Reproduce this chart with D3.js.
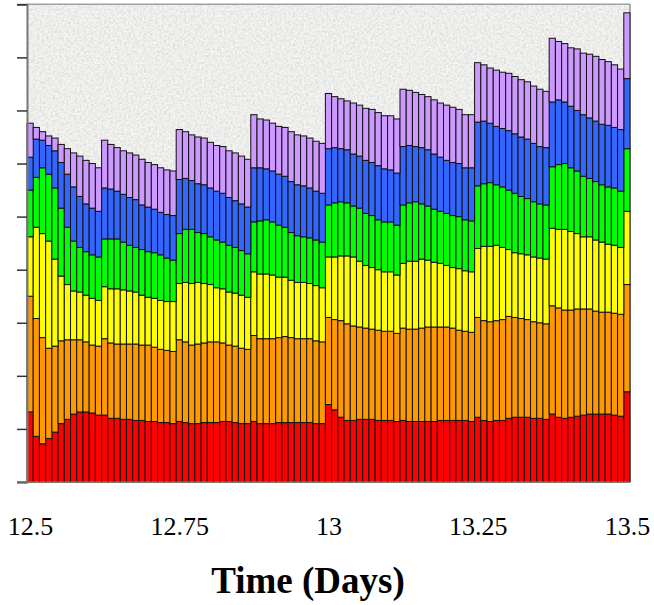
<!DOCTYPE html>
<html><head><meta charset="utf-8">
<script src="https://cdn.jsdelivr.net/npm/d3@7/dist/d3.min.js"></script>
<style>body{margin:0;background:#fff}</style></head>
<body><svg id="chart" width="654" height="605"></svg>
<script>
// ---- data (one bar per 15-minute step) ----
const stepDays = 1 / 96;
const times = d3.range(97).map(i => 12.5 + i * stepDays);
const seriesKeys = ["red", "orange", "yellow", "green", "blue", "purple"];
const red = [66,43,36,41,47,55,59,64,66,66,65,63, 63,60,60,59,59,58,58,57,57,56,56,55, 57,56,55,55,56,56,56,57,57,56,55,55, 57,55,55,55,56,56,56,56,56,56,55,55, 73,68,61,58,58,59,59,59,58,58,58,57, 58,57,57,57,57,57,58,58,58,58,58,57, 61,58,57,58,58,60,61,61,61,60,60,59, 64,61,60,61,62,63,64,64,64,64,63,62, 85];
const orange = [109,111,100,85,81,78,75,70,68,66,64,65, 72,71,70,71,71,72,71,72,70,69,68,68, 77,76,74,75,75,76,76,74,72,72,71,70, 81,80,80,80,80,81,80,79,79,79,78,77, 82,85,91,91,89,87,86,85,85,84,84,83, 87,87,87,88,89,89,88,88,87,85,84,84, 94,94,94,94,95,96,94,93,92,91,90,90, 102,103,102,101,101,100,99,97,96,96,96,96, 101];
const yellow = [56,86,98,101,82,61,52,46,45,44,44,43, 49,51,52,51,50,49,47,45,46,46,46,47, 53,56,58,58,56,54,51,51,50,50,50,49, 60,61,61,60,57,56,54,53,53,52,52,51, 57,59,61,64,65,62,59,58,57,56,56,55, 61,64,64,65,63,61,60,58,57,58,57,57, 65,70,71,71,68,63,61,61,61,61,61,61, 73,74,76,74,71,68,68,67,66,64,64,63, 69];
const green = [44,47,62,63,67,64,54,47,42,41,41,41, 45,47,47,45,43,42,43,43,43,43,41,39, 47,50,51,47,47,45,45,44,44,43,42,41, 47,50,51,50,49,47,45,44,43,43,43,43, 49,51,51,50,48,50,49,49,47,47,47,47, 55,55,56,52,51,50,49,49,49,49,48,48, 59,59,60,57,57,56,56,54,53,52,51,51, 58,61,62,60,59,57,55,55,54,54,54,53, 59];
const blue = [31,36,26,27,35,43,50,51,48,45,44,43, 48,47,45,45,45,45,42,42,41,40,41,42, 51,48,46,46,46,46,46,46,45,44,44,44, 51,50,48,48,48,48,48,48,48,47,46,46, 53,52,50,50,49,49,50,50,51,50,49,49, 55,54,52,53,53,52,51,50,50,50,49,50, 60,59,56,55,55,56,56,56,56,55,54,54, 61,61,58,58,57,58,57,57,57,58,57,58, 66];
const purple = [32,11,8,9,12,17,24,32,38,41,42,41, 45,42,41,41,42,42,43,42,42,42,42,42, 47,44,43,44,44,43,43,44,44,45,45,45, 50,46,46,45,45,46,47,47,47,47,47,47, 52,48,47,46,48,48,49,50,50,50,51,51, 54,52,51,50,50,51,51,52,52,51,50,50, 56,53,52,53,53,54,54,54,54,54,54,53, 60,55,55,55,58,58,60,61,61,60,59,57, 62];
const xTickValues = [12.5, 12.75, 13, 13.25, 13.5];
const xTickLabels = ["12.5", "12.75", "13", "13.25", "13.5"];
const yMax = 450, yStep = 50;
const colors = ["#ff0000", "#ff9900", "#ffff00", "#00ff00", "#3366ff", "#cc99ff"];

// ---- build table ----
const valuesByKey = {red, orange, yellow, green, blue, purple};
const rows = times.map((t, i) => {
  const r = {t};
  seriesKeys.forEach(k => r[k] = valuesByKey[k][i]);
  return r;
});

const svg = d3.select("#chart");
const L = 27, R = 630, T = 4.3, B = 482;
const serif = "'Liberation Serif', 'Times New Roman', Times, serif";
const x = d3.scaleLinear().domain([12.5 - stepDays / 2, 13.5 + stepDays / 2]).range([L, R]);
const y = d3.scaleLinear().domain([0, yMax]).range([B, T]);
const color = d3.scaleOrdinal().domain(seriesKeys).range(colors);

// background texture
const defs = svg.append("defs");
const f = defs.append("filter").attr("id", "noise").attr("x", 0).attr("y", 0).attr("width", "100%").attr("height", "100%");
f.append("feTurbulence").attr("type", "fractalNoise").attr("baseFrequency", 0.45).attr("numOctaves", 3).attr("seed", 4).attr("result", "n");
f.append("feColorMatrix").attr("in", "n").attr("type", "matrix")
  .attr("values", "0 0 0 0 0.55  0 0 0 0 0.55  0 0 0 0 0.55  1.1 0 0 0 -0.4");
svg.append("rect").attr("x", L).attr("y", T).attr("width", R - L).attr("height", B - T).attr("fill", "#f4f4f2");
svg.append("rect").attr("x", L).attr("y", T).attr("width", R - L).attr("height", B - T).attr("filter", "url(#noise)");

// frame
svg.append("line").attr("x1", L).attr("x2", R).attr("y1", T).attr("y2", T).attr("stroke", "#a0a0a0").attr("stroke-width", 1.5);
svg.append("line").attr("x1", R).attr("x2", R).attr("y1", T).attr("y2", B).attr("stroke", "#909090").attr("stroke-width", 1.5);

// stacked bars
const stacked = d3.stack().keys(seriesKeys)(rows);
svg.append("g").selectAll("g").data(stacked).join("g")
  .attr("fill", d => color(d.key))
  .selectAll("rect").data(d => d).join("rect")
  .attr("x", d => x(d.data.t - stepDays / 2))
  .attr("width", d => x(d.data.t + stepDays / 2) - x(d.data.t - stepDays / 2))
  .attr("y", d => y(d[1]))
  .attr("height", d => y(d[0]) - y(d[1]))
  .attr("stroke", "#111")
  .attr("stroke-width", 1);

// y axis (ticks only, no labels)
const yAxis = svg.append("g").attr("transform", `translate(${L},0)`)
  .call(d3.axisLeft(y).tickValues(d3.range(0, yMax + 1, yStep)).tickSize(10).tickFormat(""));
yAxis.select(".domain").attr("stroke", "#777").attr("stroke-width", 2);
yAxis.selectAll(".tick line").attr("stroke", "#333").attr("stroke-width", 1.5);

// bottom axis line
svg.append("line").attr("x1", 17).attr("x2", R).attr("y1", B).attr("y2", B).attr("stroke", "#777").attr("stroke-width", 1.5);

// x axis labels
const xAxis = svg.append("g").attr("transform", `translate(0,${B})`)
  .call(d3.axisBottom(x).tickValues(xTickValues).tickSize(0).tickPadding(0)
    .tickFormat((d, i) => xTickLabels[i]));
xAxis.attr("font-family", null).attr("font-size", null);
xAxis.select(".domain").remove();
xAxis.selectAll("text")
  .attr("y", 53).attr("dy", 0)
  .style("font-family", serif)
  .style("font-size", "26px").attr("fill", "#000");

svg.append("text").attr("x", 308).attr("y", 593).attr("text-anchor", "middle")
  .style("font-family", serif)
  .style("font-weight", "bold").style("font-size", "37px").attr("fill", "#000")
  .text("Time (Days)");
</script></body></html>
